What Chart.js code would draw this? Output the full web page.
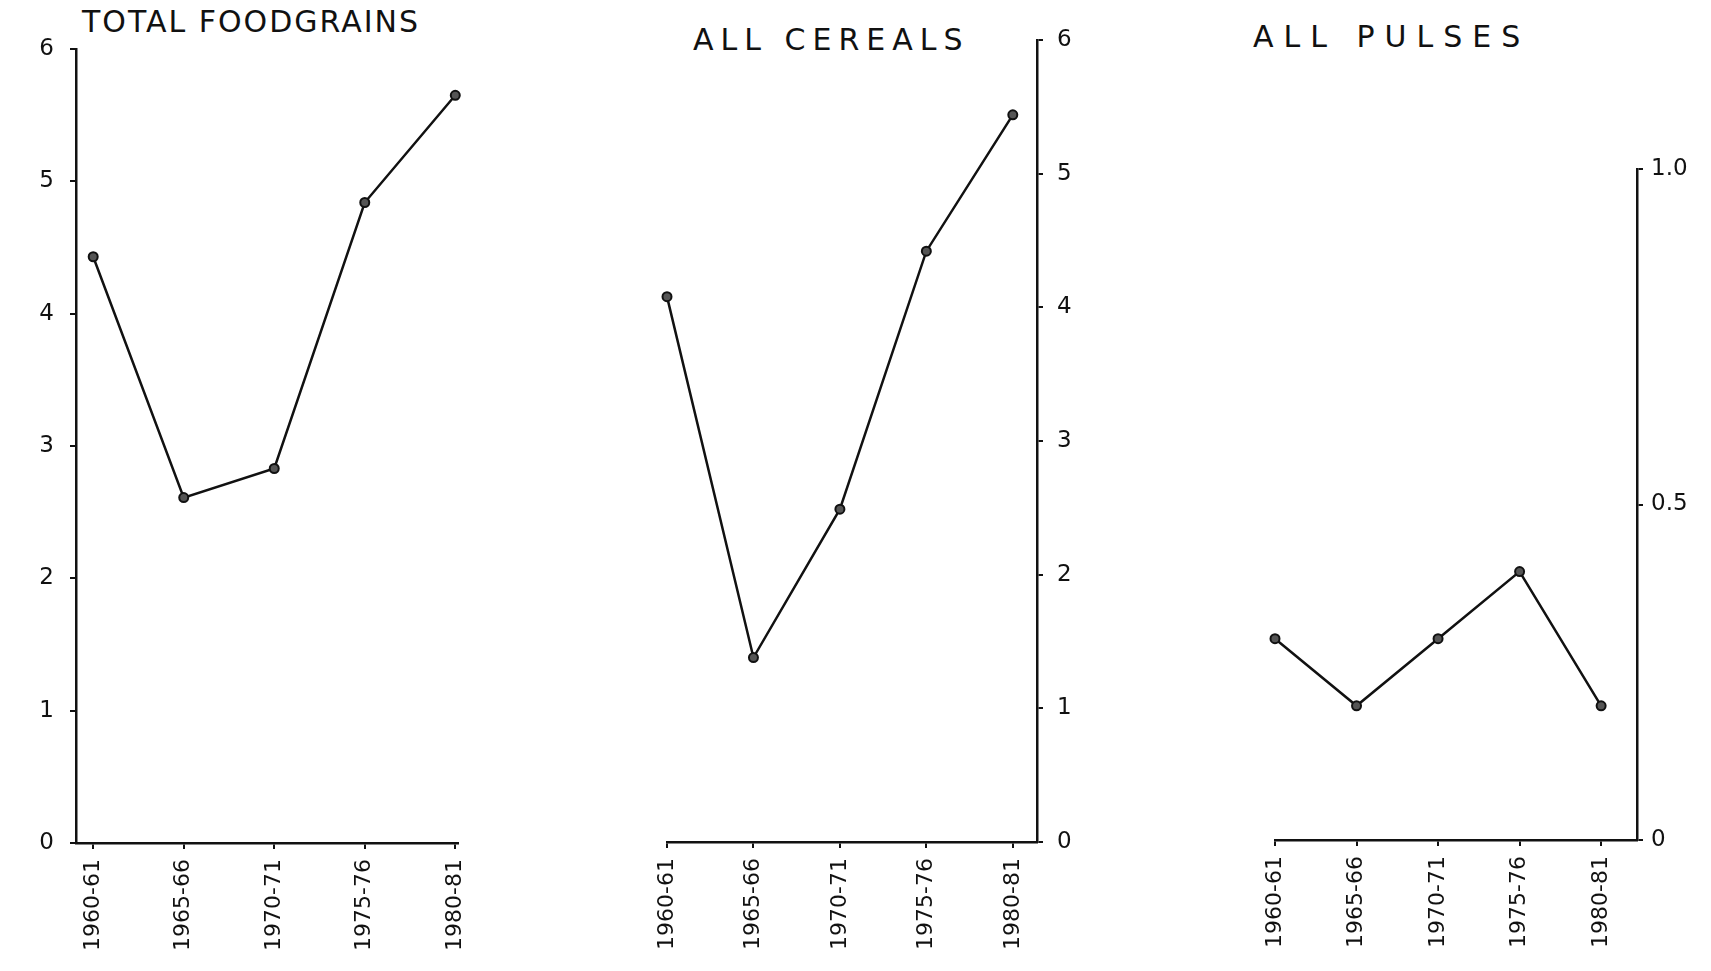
<!DOCTYPE html>
<html>
<head>
<meta charset="utf-8">
<title>Growth rates - foodgrains, cereals, pulses</title>
<script src="https://cdn.jsdelivr.net/npm/chart.js@4.4.1/dist/chart.umd.min.js"></script>
<style>
    html, body { margin: 0; padding: 0; background: #fff; }
    body { width: 1711px; height: 971px; position: relative; overflow: hidden; font-family: "DejaVu Sans", sans-serif; }
    canvas { position: absolute; top: 0; }
    .title { position: absolute; font-size: 30px; line-height: 30px; color: #111; white-space: nowrap; }
</style>
</head>
<body>
<div class="title" style="left:82px; top:7px; letter-spacing:2px;">TOTAL FOODGRAINS</div>
<div class="title" style="left:693px; top:25px; letter-spacing:7px;">ALL CEREALS</div>
<div class="title" style="left:1253px; top:22px; letter-spacing:10px;">ALL PULSES</div>

<canvas id="foodgrainsChart" width="560" height="971" style="left:0px;"></canvas>
<canvas id="cerealsChart" width="560" height="971" style="left:560px;"></canvas>
<canvas id="pulsesChart" width="591" height="971" style="left:1120px;"></canvas>

<script>
// values
const periods = ['1960-61', '1965-66', '1970-71', '1975-76', '1980-81'];
const foodgrainsRates = [4.43, 2.61, 2.83, 4.84, 5.65];
const cerealsRates = [4.08, 1.38, 2.49, 4.42, 5.44];
const pulsesRates = [0.30, 0.20, 0.30, 0.40, 0.20];
const grainTickLabels = ['0', '1', '2', '3', '4', '5', '6'];
const pulseTickLabels = ['0', '0.5', '1.0'];

const ink = '#111';

function makeChart(id, values, cfg) {
    const ctx = document.getElementById(id).getContext('2d');

    new Chart(ctx, {
        type: 'line',
        data: {
            datasets: [{
                data: values.map(function(v, i) { return { x: i, y: v }; }),
                borderColor: ink,
                borderWidth: 2.5,
                tension: 0,
                pointRadius: 4.5,
                pointBackgroundColor: '#555',
                pointBorderColor: ink,
                pointBorderWidth: 2,
                clip: false
            }]
        },
        options: {
            responsive: false,
            animation: false,
            layout: { padding: cfg.padding },
            plugins: {
                legend: { display: false },
                tooltip: { enabled: false }
            },
            scales: {
                x: {
                    type: 'linear',
                    min: cfg.xMin,
                    max: cfg.xMax,
                    afterFit: function(scale) { scale.height = cfg.xHeight; },
                    border: { display: true, color: ink, width: 2.5, dash: cfg.xDash },
                    grid: { drawOnChartArea: false, drawTicks: true, tickLength: 6, color: ink, lineWidth: 2 },
                    ticks: {
                        stepSize: 1,
                        includeBounds: false,
                        autoSkip: false,
                        minRotation: 90,
                        maxRotation: 90,
                        padding: 10,
                        color: ink,
                        font: { family: 'DejaVu Sans', size: 22 },
                        callback: function(value) {
                            return periods[value];
                        }
                    }
                },
                y: {
                    position: cfg.yPosition,
                    min: 0,
                    max: cfg.yMax,
                    afterFit: function(scale) { scale.width = cfg.yWidth; },
                    border: { display: true, color: ink, width: 2.5 },
                    grid: { drawOnChartArea: false, drawTicks: true, tickLength: 6, color: ink, lineWidth: 2 },
                    ticks: {
                        stepSize: cfg.yStep,
                        padding: cfg.yPad,
                        color: ink,
                        font: { family: 'DejaVu Sans', size: 23 },
                        callback: function(value) {
                            return cfg.yLabels[Math.round(value / cfg.yStep)];
                        }
                    }
                }
            }
        }
    });
}

makeChart('foodgrainsChart', foodgrainsRates, {
    padding: { top: 49, left: 0, right: 102, bottom: 0 },
    xMin: -0.19, xMax: 4.03, xHeight: 128, xDash: [22, 6],
    yPosition: 'left', yWidth: 76, yPad: 16,
    yMax: 6, yStep: 1, yLabels: grainTickLabels
});

makeChart('cerealsChart', cerealsRates, {
    padding: { top: 40, left: 107, right: 0, bottom: 0 },
    xMin: 0, xMax: 4.28, xHeight: 129, xDash: [22, 6],
    yPosition: 'right', yWidth: 83, yPad: 14,
    yMax: 6, yStep: 1, yLabels: grainTickLabels
});

makeChart('pulsesChart', pulsesRates, {
    padding: { top: 169, left: 155, right: 0, bottom: 0 },
    xMin: 0, xMax: 4.44, xHeight: 131, xDash: [],
    yPosition: 'right', yWidth: 74, yPad: 8,
    yMax: 1, yStep: 0.5, yLabels: pulseTickLabels
});
</script>
</body>
</html>
